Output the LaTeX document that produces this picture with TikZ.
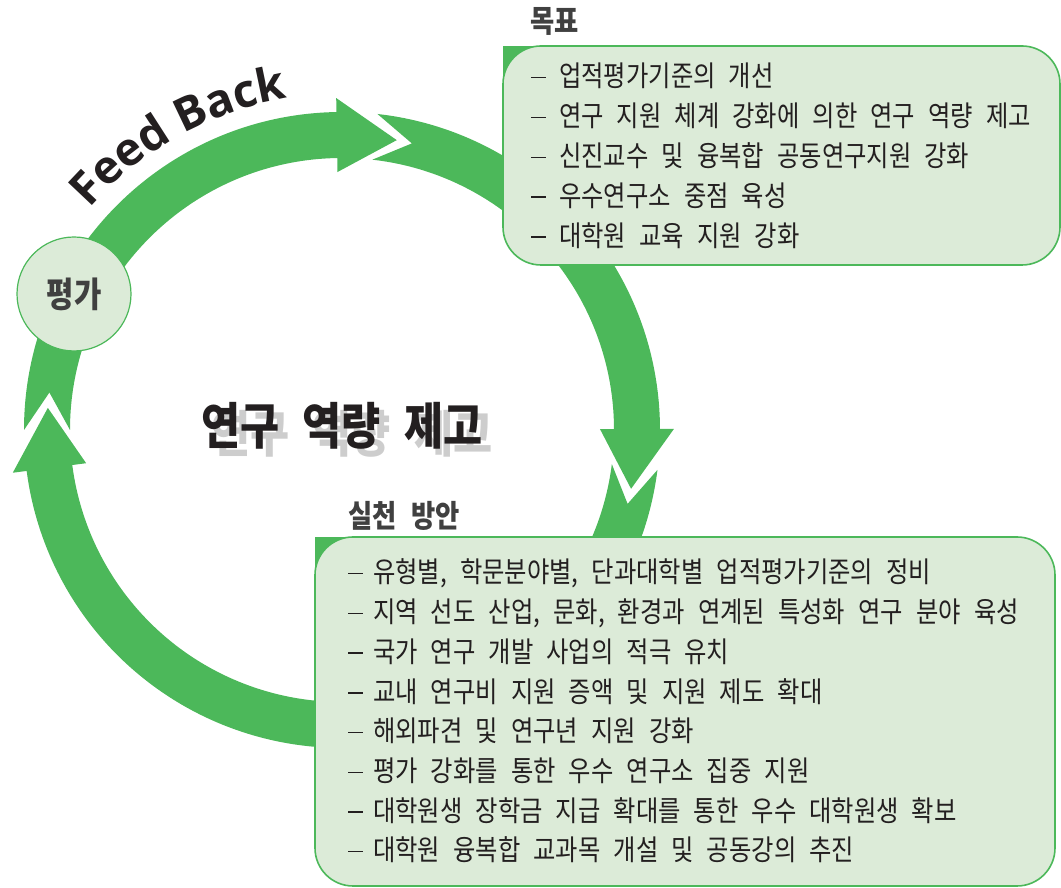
\documentclass[tikz,border=0pt]{standalone}
\usepackage{fontspec}
\newfontfamily\krfont[FakeStretch=0.85,WordSpace=2.4]{Noto Sans CJK KR}
\newfontfamily\latinfont{Open Sans}
\usetikzlibrary{decorations.text}
\definecolor{ringGreen}{HTML}{4CB85A}
\definecolor{boxGreen}{HTML}{DCEBD8}
\definecolor{inkGray}{HTML}{404040}
\definecolor{inkBlack}{HTML}{231F20}
\definecolor{shadowGray}{HTML}{CDCDCD}

\begin{document}
\begin{tikzpicture}
[x=1pt,y=1pt,
  ringDecorate/.style={fill=ringGreen,draw=none},
  boxDecorate/.style={fill=boxGreen,draw=ringGreen,line width=1.6pt,rounded corners=38pt},
  itemText/.style={anchor=base west,inner sep=0pt,text=inkBlack,font=\krfont\fontsize{28.6}{28.6}\selectfont},
  headText/.style={anchor=base west,inner sep=0pt,text=inkGray,font=\krfont\bfseries\fontsize{31}{31}\selectfont},
  titleText/.style={inner sep=0pt,font=\krfont\bfseries\fontsize{50}{50}\selectfont}]
\useasboundingbox (0,0) rectangle (1061,888);
%% ring segments: previous tip / this tip
\begin{scope}[shift={(342,458)}]
\foreach \prev/\tip in {175.7/79.3, 79.3/-11.5, -11.5/-75, -75/-184.3}
{
  \fill[ringDecorate] (\prev+4.3:318) arc[start angle=\prev+4.3, end angle=\tip+11.7, radius=318]
    -- (\tip+11.7:332) -- (\tip:295) -- (\tip+11.7:258) -- (\tip+11.7:272)
    arc[start angle=\tip+11.7, end angle=\prev+4.3, radius=272] -- (\prev-3:295) -- cycle;
}
%% feed back label on the arc
\path[decorate,decoration={text along path,text align=center,
  text={|\latinfont\bfseries\fontsize{46}{46}\selectfont\color{inkBlack}|Feed Back}}]
  (149:336) arc[start angle=149, end angle=89, radius=336];
\end{scope}
%% boxes
\fill[ringGreen] (503,842) rectangle (545,800);
\path[boxDecorate] (503,623) rectangle (1060,842);
\fill[ringGreen] (315,351) rectangle (357,309);
\path[boxDecorate] (315,2) rectangle (1055,351);
%% headers
\node[headText] (goalHead) at (530,855) {목표};
\node[headText] (planHead) at (348,360) {실천 방안};
%% items
\foreach \txt [count=\i from 0] in {
  업적평가기준의 개선, 연구 지원 체계 강화에 의한 연구 역량 제고,
  신진교수 및 융복합 공동연구지원 강화, 우수연구소 중점 육성, 대학원 교육 지원 강화}
{
  \node[itemText] (goal\i) at (531,801-39.8*\i) {\makebox[28pt][l]{\rule[8.5pt]{15pt}{1.4pt}}\txt};
}
\foreach \txt [count=\i from 0] in {
  {유형별, 학문분야별, 단과대학별 업적평가기준의 정비},
  {지역 선도 산업, 문화, 환경과 연계된 특성화 연구 분야 육성},
  국가 연구 개발 사업의 적극 유치, 교내 연구비 지원 증액 및 지원 제도 확대,
  해외파견 및 연구년 지원 강화, 평가 강화를 통한 우수 연구소 집중 지원,
  대학원생 장학금 지급 확대를 통한 우수 대학원생 확보,
  대학원 융복합 교과목 개설 및 공동강의 추진}
{
  \node[itemText] (plan\i) at (348,305-39.7*\i) {\makebox[25pt][l]{\rule[8.5pt]{15pt}{1.4pt}}\txt};
}
%% evaluation circle
\node[circle,minimum size=114pt,fill=boxGreen,draw=ringGreen,line width=1.2pt,
  text=inkGray,font=\krfont\bfseries\fontsize{35}{35}\selectfont] (evalNode) at (74,594) {평가};
%% center title with shadow
\node[titleText,text=shadowGray] (titleShadow) at (352,454) {연구 역량 제고};
\node[titleText,text=inkBlack] (titleMain) at (342,462) {연구 역량 제고};
\end{tikzpicture}
\end{document}
